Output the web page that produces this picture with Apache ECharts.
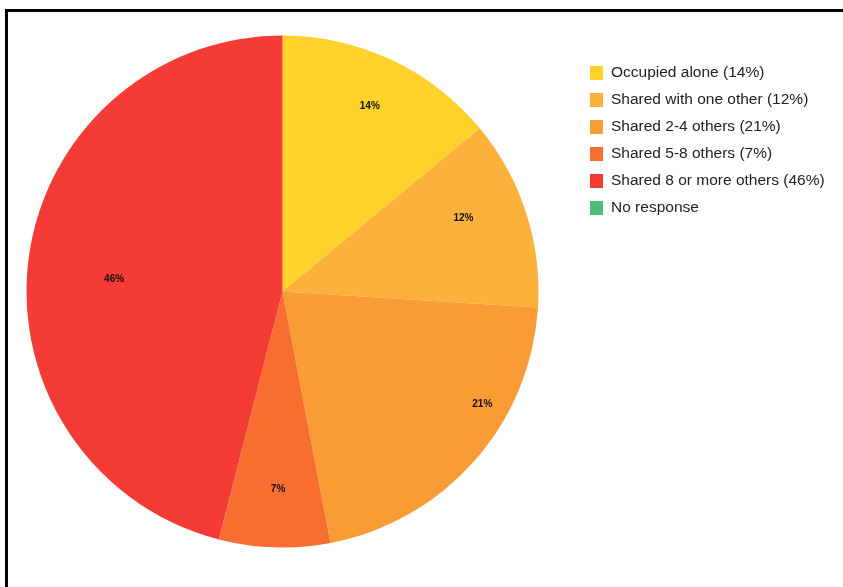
<!DOCTYPE html>
<html>
<head>
<meta charset="utf-8">
<script src="https://cdn.jsdelivr.net/npm/echarts@6/dist/echarts.min.js"></script>
<style>
    html, body { margin: 0; padding: 0; background: #fff; }
    #frame { position: absolute; left: 5px; top: 9px; width: 900px; height: 700px;
             border-top: 3px solid #000; border-left: 3px solid #000; }
    #main { position: absolute; left: 0; top: 0; width: 843px; height: 587px; }
</style>
</head>
<body>
<div id="frame"></div>
<div id="main"></div>
<script>
// 住房情况占比
const categories = [
    'Occupied alone',
    'Shared with one other',
    'Shared 2-4 others',
    'Shared 5-8 others',
    'Shared 8 or more others',
    'No response'
];
const values = [14, 12, 21, 7, 46, 0];
const legendPct = ['14%', '12%', '21%', '7%', '46%', ''];
const colors = ['#FED12B', '#FBB13A', '#FA9C35', '#F86E30', '#F53B35', '#4DBF7C'];
// small nudges so the percent labels sit where the original put them
const labelNudge = [[0, 0], [-14, -10], [46, -23], [2, -7], [35, 13], [0, 0]];

const pieData = categories.map((name, i) => ({ name: name, value: values[i] }));

const chart = echarts.init(document.getElementById('main'));
chart.setOption({
    animation: false,
    color: colors,
    legend: {
        orient: 'vertical',
        left: 590,
        top: 65,
        padding: 0,
        itemWidth: 13,
        itemHeight: 14,
        itemGap: 11,
        icon: 'rect',
        data: categories,
        textStyle: { fontFamily: 'Liberation Sans, Arial, sans-serif', fontSize: 15.5, lineHeight: 14, color: '#222', padding: [0, 0, 0, 3] },
        formatter: function (name) {
            const i = categories.indexOf(name);
            return legendPct[i] ? name + ' (' + legendPct[i] + ')' : name;
        }
    },
    series: [
        {
            type: 'pie',
            center: [282.5, 291.5],
            radius: [0, 256],
            startAngle: 90,
            clockwise: true,
            silent: true,
            label: { show: false },
            labelLine: { show: false },
            data: pieData
        },
        {
            // transparent ring only used to place the percent labels
            type: 'pie',
            center: [282.5, 291.5],
            radius: [148, 256],
            startAngle: 90,
            clockwise: true,
            silent: true,
            itemStyle: { color: 'rgba(0,0,0,0)' },
            label: {
                show: true,
                position: 'inside',
                formatter: function (p) { return p.value > 0 ? p.value + '%' : ''; },
                color: '#111',
                fontSize: 10,
                fontWeight: 'bold',
                fontFamily: 'Liberation Sans, Arial, sans-serif'
            },
            labelLayout: function (params) {
                const n = labelNudge[params.dataIndex] || [0, 0];
                return { dx: n[0], dy: n[1] };
            },
            labelLine: { show: false },
            data: pieData
        }
    ]
});
</script>
</body>
</html>
